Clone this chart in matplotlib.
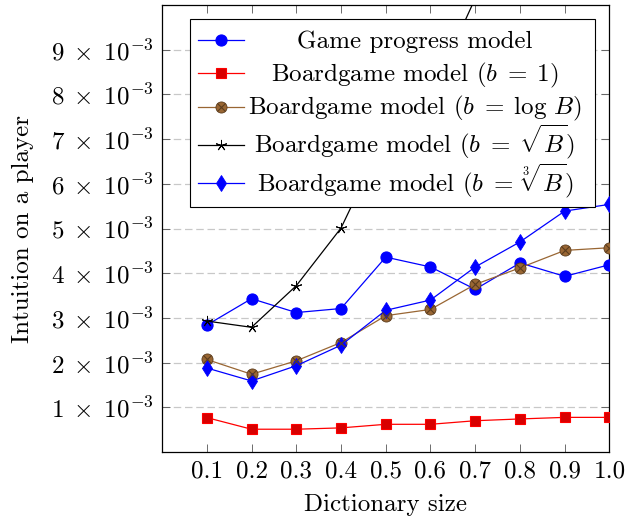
import matplotlib.pyplot as plt
from matplotlib.lines import Line2D
from matplotlib.patches import Rectangle

plt.rcParams['font.family'] = 'cmr10'
plt.rcParams['mathtext.fontset'] = 'cm'
plt.rcParams['axes.formatter.use_mathtext'] = True

# data
dict_size = [0.1, 0.2, 0.3, 0.4, 0.5, 0.6, 0.7, 0.8, 0.9, 1.0]
game_progress = [2.84e-3, 3.43e-3, 3.12e-3, 3.21e-3, 4.36e-3, 4.14e-3, 3.64e-3, 4.23e-3, 3.93e-3, 4.19e-3]
board_b1 = [0.77e-3, 0.51e-3, 0.51e-3, 0.54e-3, 0.62e-3, 0.62e-3, 0.70e-3, 0.74e-3, 0.775e-3, 0.775e-3]
board_log = [2.07e-3, 1.74e-3, 2.04e-3, 2.45e-3, 3.05e-3, 3.19e-3, 3.75e-3, 4.12e-3, 4.51e-3, 4.57e-3]
board_sqrt = [2.93e-3, 2.79e-3, 3.72e-3, 5.01e-3, 7.1e-3, 7.95e-3, 10.15e-3, 12.5e-3, 14.8e-3, 17.6e-3]
board_cbrt = [1.88e-3, 1.59e-3, 1.93e-3, 2.39e-3, 3.17e-3, 3.40e-3, 4.14e-3, 4.70e-3, 5.39e-3, 5.54e-3]

xticks = dict_size
xticklabels = ['0.1', '0.2', '0.3', '0.4', '0.5', '0.6', '0.7', '0.8', '0.9', '1.0']
yticks = [1e-3, 2e-3, 3e-3, 4e-3, 5e-3, 6e-3, 7e-3, 8e-3, 9e-3]
yticklabels = [r'$%d\;\times\;10^{-3}$' % k for k in range(1, 10)]

labels = ['Game progress model',
          r'Boardgame model ($b\;=\;1$)',
          r'Boardgame model ($b\;=\;\log\,B$)',
          r'Boardgame model ($b\;=\;\sqrt{B}$)',
          r'Boardgame model ($b\;=\;\sqrt[3]{B}$)']

brown = '#996633'
brown_dark = '#5c3d1e'

styles = [
    dict(color='blue', marker='o', ms=8, mfc='blue', mec='blue', mew=0.8),
    dict(color='red', marker='s', ms=7.5, mfc='#d80000', mec='red', mew=0.8),
    dict(color=brown, marker='o', ms=8, mfc=brown, mec=brown_dark, mew=0.6),
    dict(color='black', marker=(5, 2, 0), ms=8, mfc='black', mec='black', mew=0.7),
    dict(color='blue', marker='d', ms=8, mfc='blue', mec='blue', mew=0.6),
]
cross = dict(color=brown_dark, marker='x', ms=5.4, mew=0.8, ls='none')

series = [game_progress, board_b1, board_log, board_sqrt, board_cbrt]

fig = plt.figure(figsize=(6.28, 5.21), dpi=100)
ax = fig.add_axes([0.258, 0.1324, 0.7125, 0.858])

for ys, st in zip(series, styles):
    ax.plot(dict_size, ys, lw=0.9, zorder=3, **st)
    if st['color'] == brown:
        ax.plot(dict_size, ys, zorder=3.1, **cross)

ax.set_xlim(0, 1.0)
ax.set_ylim(0, 0.01)
ax.set_xticks(xticks)
ax.set_xticklabels(xticklabels)
ax.set_yticks(yticks)
ax.set_yticklabels(yticklabels)
ax.tick_params(direction='in', length=6, width=0.6, color='#555555',
               top=True, right=True, labelsize=18, pad=6)
for sp in ax.spines.values():
    sp.set_linewidth(0.9)
ax.yaxis.grid(True, color='#c8c8c8', linestyle=(0, (6, 3)), linewidth=0.9)
ax.set_axisbelow(True)

ax.set_xlabel('Dictionary size', fontsize=18, labelpad=8)
ax.set_ylabel('Intuition on a player', fontsize=18, labelpad=12)

# legend box drawn by hand so the labels are centred like pgfplots
ax.add_patch(Rectangle((0.0626, 0.5488), 0.905, 0.4206, transform=ax.transAxes,
                       facecolor='white', edgecolor='black', lw=0.8, zorder=10))
handle_y = [0.9217, 0.8472, 0.7725, 0.6868, 0.6011]
text_y = [0.9045, 0.830, 0.7555, 0.6696, 0.5823]
for lab, st, hy, ty in zip(labels, styles, handle_y, text_y):
    ax.add_line(Line2D([0.0811, 0.184], [hy, hy], transform=ax.transAxes, lw=0.9,
                       color=st['color'], zorder=11, clip_on=False))
    mk = {k: v for k, v in st.items() if k != 'color'}
    ax.add_line(Line2D([0.1329], [hy], transform=ax.transAxes, ls='none',
                       zorder=12, clip_on=False, **mk))
    if st['color'] == brown:
        ax.add_line(Line2D([0.1329], [hy], transform=ax.transAxes, zorder=13,
                           clip_on=False, **cross))
    ax.text(0.5654, ty, lab, transform=ax.transAxes, ha='center', va='baseline',
            fontsize=18, zorder=12)

fig.savefig('out.png', dpi=100)
